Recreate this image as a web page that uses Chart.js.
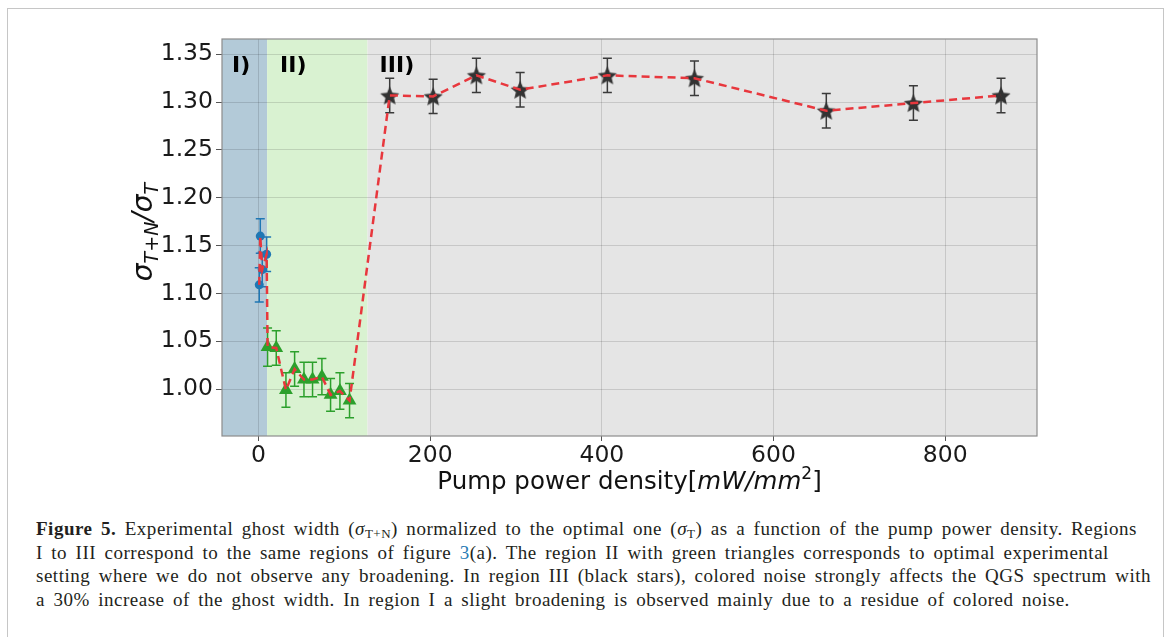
<!DOCTYPE html>
<html lang="en">
<head>
  <meta charset="UTF-8">
  <title>Figure 5 - ghost width vs pump power density</title>
  <script src="https://cdn.jsdelivr.net/npm/chart.js"></script>
  <style>
    body {
      margin: 0;
      width: 1165px;
      height: 637px;
      overflow: hidden;
      position: relative;
      background: #fff;
      font-family: "DejaVu Sans", sans-serif;
    }

    .frame {
      position: absolute;
      left: 7px;
      top: 8px;
      width: 1157px;
      height: 700px;
      border: 1.5px solid #c6c6c6;
      box-sizing: border-box;
    }

    .chart-box {
      position: absolute;
      left: 0;
      top: 0;
      width: 1165px;
      height: 505px;
    }

    .caption {
      position: absolute;
      left: 36px;
      top: 517px;
      font-family: "Liberation Serif", serif;
      font-size: 19px;
      line-height: 23.5px;
      color: #231f20;
      white-space: nowrap;
    }

    .caption div {
      width: max-content;
    }

    .caption sub {
      font-size: 13px;
      vertical-align: -3px;
      line-height: 0;
    }

    .lnk {
      color: #2a7bb5;
    }
  </style>
</head>
<body>
  <div class="frame"></div>
  <div class="chart-box"><canvas id="chart"></canvas></div>
  <div class="caption">
    <div><b>Figure 5.</b> Experimental ghost width (<i>σ</i><sub>T+N</sub>) normalized to the optimal one (<i>σ</i><sub>T</sub>) as a function of the pump power density. Regions</div>
    <div>I to III correspond to the same regions of figure <span class="lnk">3</span>(a). The region II with green triangles corresponds to optimal experimental</div>
    <div>setting where we do not observe any broadening. In region III (black stars), colored noise strongly affects the QGS spectrum with</div>
    <div>a 30% increase of the ghost width. In region I a slight broadening is observed mainly due to a residue of colored noise.</div>
  </div>

  <script>
    // region I (blue circles)
    const blueX = [0.8, 2.0, 4.3, 9.4];
    const blueY = [1.109, 1.160, 1.125, 1.141];
    const blueErr = [0.018, 0.018, 0.018, 0.018];

    // region II (green triangles)
    const greenX = [10.5, 20.6, 31.9, 42.0, 52.9, 62.9, 73.8, 83.9, 94.8, 106.0];
    const greenY = [1.044, 1.043, 0.999, 1.021, 1.010, 1.010, 1.013, 0.994, 0.998, 0.988];
    const greenErr = [0.020, 0.018, 0.018, 0.018, 0.018, 0.018, 0.019, 0.017, 0.019, 0.018];

    // region III (black stars)
    const starX = [152.8, 203.4, 253.8, 304.8, 406.4, 507.9, 661.5, 763.0, 865.1];
    const starY = [1.307, 1.306, 1.328, 1.313, 1.328, 1.325, 1.291, 1.299, 1.307];
    const starErr = [0.018, 0.018, 0.018, 0.018, 0.018, 0.018, 0.018, 0.018, 0.018];

    // axes
    const xTicks = [0, 200, 400, 600, 800];
    const yTicks = [1.00, 1.05, 1.10, 1.15, 1.20, 1.25, 1.30, 1.35];
    const xRange = [-42.6, 907];
    const yRange = [0.951, 1.366];

    // shaded regions and their labels
    const regionEdges = [-42.6, 10, 127, 907];
    const regionNames = ['I)', 'II)', 'III)'];
    const regionLabelX = [-31, 25, 141];
    const regionLabelY = 1.337;

    const toPoints = (xs, ys) => xs.map((x, i) => ({ x: x, y: ys[i] }));
    const allPoints = toPoints(blueX, blueY)
      .concat(toPoints(greenX, greenY))
      .concat(toPoints(starX, starY));

    // stretch the caption lines to the width of the printed ones
    const capLines = document.querySelectorAll('.caption div');
    const firstText = capLines[0].textContent;
    const extra = 1101 - capLines[0].getBoundingClientRect().width;
    const nSpaces = firstText.split(' ').length - 1;
    capLines.forEach(l => {
      l.style.letterSpacing = (extra * 0.5 / firstText.length) + 'px';
      l.style.wordSpacing = (extra * 0.5 / nSpaces) + 'px';
    });

    // filled five-point star for the markers
    function makeStar(r, color) {
      const c = document.createElement('canvas');
      const s = Math.ceil(r * 2 + 2);
      c.width = s;
      c.height = s;
      const g = c.getContext('2d');
      g.fillStyle = color;
      g.beginPath();
      for (let k = 0; k < 10; k++) {
        const rad = k % 2 ? r * 0.45 : r;
        const a = -Math.PI / 2 + k * Math.PI / 5;
        g.lineTo(s / 2 + rad * Math.cos(a), s / 2 + 1 + rad * Math.sin(a));
      }
      g.closePath();
      g.fill();
      return c;
    }

    const regionColors = ['#b3cad8', '#d9f2d1', '#e5e5e5'];

    const backgroundPlugin = {
      id: 'regions',
      beforeDraw(chart) {
        const { ctx, chartArea } = chart;
        const xs = chart.scales.x;
        ctx.save();
        for (let i = 0; i < regionColors.length; i++) {
          const x0 = Math.max(chartArea.left, xs.getPixelForValue(regionEdges[i]));
          const x1 = Math.min(chartArea.right, xs.getPixelForValue(regionEdges[i + 1]));
          ctx.fillStyle = regionColors[i];
          ctx.fillRect(x0, chartArea.top, x1 - x0, chartArea.bottom - chartArea.top);
        }
        ctx.restore();
      }
    };

    const errorBarPlugin = {
      id: 'errorbars',
      beforeDatasetsDraw(chart) {
        const { ctx } = chart;
        const xs = chart.scales.x, ys = chart.scales.y;
        ctx.save();
        chart.data.datasets.forEach(ds => {
          if (!ds.errors) return;
          ctx.strokeStyle = ds.errColor;
          ctx.lineWidth = 1.5;
          ds.data.forEach((p, i) => {
            const px = xs.getPixelForValue(p.x);
            const top = ys.getPixelForValue(p.y + ds.errors[i]);
            const bot = ys.getPixelForValue(p.y - ds.errors[i]);
            ctx.beginPath();
            ctx.moveTo(px, top);
            ctx.lineTo(px, bot);
            ctx.moveTo(px - 4.5, top);
            ctx.lineTo(px + 4.5, top);
            ctx.moveTo(px - 4.5, bot);
            ctx.lineTo(px + 4.5, bot);
            ctx.stroke();
          });
        });
        ctx.restore();
      }
    };

    // draw a run of text pieces with mixed fonts, centred on x
    function drawPieces(ctx, pieces, cx, baseY) {
      let w = 0;
      pieces.forEach(p => { ctx.font = p.f; w += ctx.measureText(p.t).width; });
      let x = cx - w / 2;
      pieces.forEach(p => {
        ctx.font = p.f;
        ctx.fillText(p.t, x, baseY + (p.dy || 0));
        x += ctx.measureText(p.t).width;
      });
    }

    const textPlugin = {
      id: 'texts',
      afterDraw(chart) {
        const { ctx, chartArea } = chart;
        const xs = chart.scales.x, ys = chart.scales.y;
        ctx.save();

        // plot frame
        ctx.strokeStyle = '#8c8c8c';
        ctx.lineWidth = 1.2;
        ctx.strokeRect(chartArea.left, chartArea.top, chartArea.right - chartArea.left, chartArea.bottom - chartArea.top);

        // region labels
        ctx.fillStyle = '#000';
        ctx.font = 'bold 22px "DejaVu Sans"';
        ctx.textBaseline = 'middle';
        regionNames.forEach((n, i) => {
          ctx.fillText(n, xs.getPixelForValue(regionLabelX[i]), ys.getPixelForValue(regionLabelY));
        });

        // x title
        ctx.textBaseline = 'alphabetic';
        ctx.fillStyle = '#111';
        drawPieces(ctx, [
          { t: 'Pump power density[', f: '24.5px "DejaVu Sans"' },
          { t: 'mW/mm', f: 'italic 24.5px "DejaVu Sans"' },
          { t: '2', f: '17px "DejaVu Sans"', dy: -10 },
          { t: ']', f: '24.5px "DejaVu Sans"' }
        ], (chartArea.left + chartArea.right) / 2, 489);

        // y title
        ctx.translate(152, 232);
        ctx.rotate(-Math.PI / 2);
        drawPieces(ctx, [
          { t: 'σ', f: 'italic 28px "DejaVu Sans"' },
          { t: 'T', f: 'italic 19px "DejaVu Sans"', dy: 6 },
          { t: '+', f: '19px "DejaVu Sans"', dy: 6 },
          { t: 'N', f: 'italic 19px "DejaVu Sans"', dy: 6 },
          { t: '/', f: 'italic 28px "DejaVu Sans"' },
          { t: 'σ', f: 'italic 28px "DejaVu Sans"' },
          { t: 'T', f: 'italic 19px "DejaVu Sans"', dy: 6 }
        ], 0, 0);

        ctx.restore();
      }
    };

    const gridColor = 'rgba(0, 0, 0, 0.13)';
    const tickFont = { family: 'DejaVu Sans', size: 23.5 };

    new Chart(document.getElementById('chart'), {
      type: 'scatter',
      data: {
        datasets: [
          {
            data: allPoints,
            showLine: true,
            borderColor: '#e8373d',
            borderWidth: 2.5,
            borderDash: [8, 5],
            pointRadius: 0,
            fill: false,
            order: 0
          },
          {
            data: toPoints(blueX, blueY),
            pointStyle: 'circle',
            pointRadius: 4.5,
            backgroundColor: '#1f77b4',
            borderColor: '#1f77b4',
            borderWidth: 0,
            errors: blueErr,
            errColor: '#1f77b4',
            order: 1
          },
          {
            data: toPoints(greenX, greenY),
            pointStyle: 'triangle',
            pointRadius: 8,
            backgroundColor: '#2ca02c',
            borderColor: '#2ca02c',
            borderWidth: 0,
            errors: greenErr,
            errColor: '#2ca02c',
            order: 1
          },
          {
            data: toPoints(starX, starY),
            pointStyle: makeStar(10, '#333333'),
            errors: starErr,
            errColor: '#3a3a3a',
            order: 1
          }
        ]
      },
      options: {
        responsive: true,
        maintainAspectRatio: false,
        animation: false,
        layout: { padding: { top: 39, right: 128, left: 0, bottom: 0 } },
        plugins: {
          legend: { display: false },
          tooltip: { enabled: false }
        },
        scales: {
          x: {
            type: 'linear',
            min: xRange[0],
            max: xRange[1],
            afterBuildTicks: s => { s.ticks = xTicks.map(v => ({ value: v })); },
            afterFit: s => { s.height = 505 - 436; },
            grid: { color: gridColor, tickColor: '#555', tickLength: 5 },
            border: { display: false },
            ticks: { font: tickFont, color: '#1a1a1a', padding: 1, maxRotation: 0 }
          },
          y: {
            type: 'linear',
            min: yRange[0],
            max: yRange[1],
            afterBuildTicks: s => { s.ticks = yTicks.map(v => ({ value: v })); },
            afterFit: s => { s.width = 222; },
            grid: { color: gridColor, tickColor: '#555', tickLength: 6 },
            border: { display: false },
            ticks: { font: tickFont, color: '#1a1a1a', padding: 3, callback: v => v.toFixed(2) }
          }
        }
      },
      plugins: [backgroundPlugin, errorBarPlugin, textPlugin]
    });
  </script>
</body>
</html>
